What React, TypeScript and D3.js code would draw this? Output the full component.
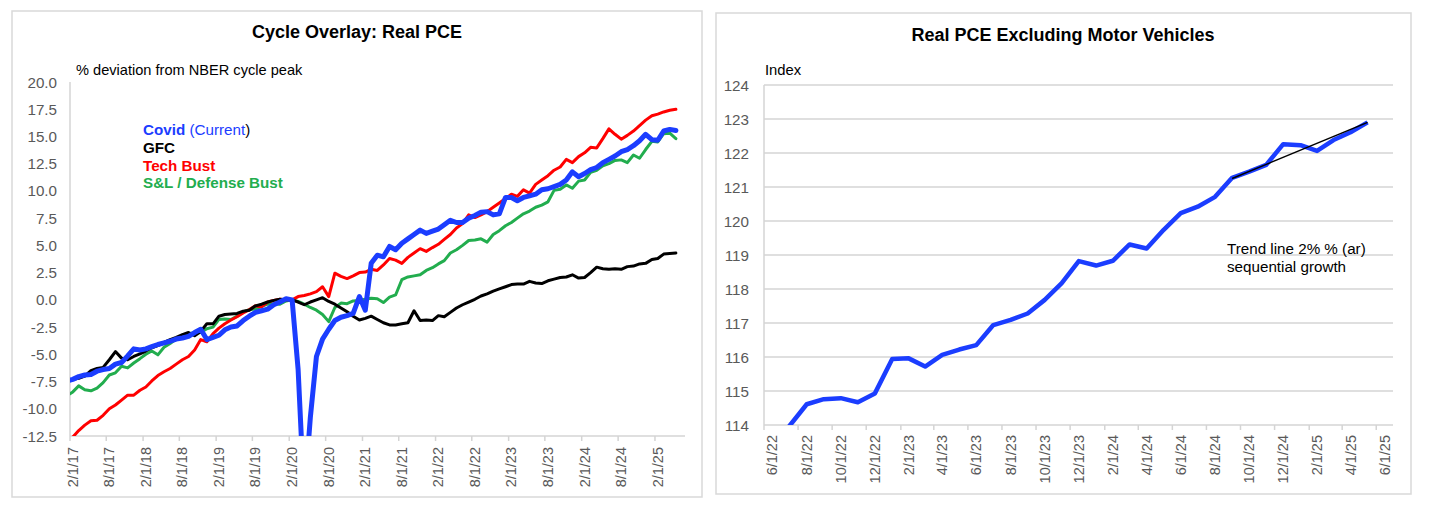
import React from "react";
import * as d3 from "d3";

const parseDay = d3.timeParse("%m/%d/%y");

// ---------- Cycle overlay: % deviation from NBER cycle peak (monthly, from Jan 2017) ----------
const cycleFirstMonth = "1/1/17";

const covid = [
  -7.45, -7.3, -7.05, -6.9, -6.85, -6.55, -6.4, -6.3, -5.9, -5.75, -5.15,
  -4.5, -4.6, -4.5, -4.3, -4.1, -3.95, -3.8, -3.6, -3.5, -3.35,
  -3.0, -2.7, -3.65, -3.45, -3.25, -2.75, -2.5, -2.4, -1.9, -1.5,
  -1.15, -1.0, -0.85, -0.45, -0.2, 0.1, 0.0, -6.4, -18.2, -10.8,
  -5.2, -3.6, -2.7, -1.9, -1.6, -1.45, -1.25, 0.3, -0.95, 3.35,
  4.1, 3.95, 4.9, 4.6, 5.2, 5.6, 6.0, 6.4, 6.1, 6.3,
  6.5, 6.9, 7.3, 7.1, 7.1, 7.5, 7.75, 8.05, 8.1, 7.8,
  7.9, 9.4, 9.4, 9.1, 9.4, 9.55, 9.7, 10.1, 10.2, 10.4,
  10.6, 11.0, 11.75, 11.3, 11.6, 11.95, 12.15, 12.6, 12.9, 13.2,
  13.6, 13.8, 14.15, 14.6, 15.2, 14.7, 14.65, 15.5, 15.65, 15.55,
];

const gfc = [
  -7.5, -7.3, -7.2, -7.0, -6.5, -6.3, -6.2, -5.5, -4.75, -5.35, -5.5,
  -5.2, -4.95, -4.7, -4.4, -4.2, -3.9, -3.65, -3.45, -3.2, -3.0,
  -3.3, -2.9, -2.2, -2.2, -1.5, -1.35, -1.3, -1.25, -1.05, -0.95,
  -0.55, -0.4, -0.2, -0.05, 0.05, 0.0, 0.0, -0.2, -0.45, -0.2,
  0.0, 0.2, -0.15, -0.4, -0.75, -1.1, -1.5, -1.85, -1.7, -1.5,
  -1.8, -2.1, -2.3, -2.3, -2.2, -2.1, -1.0, -1.9, -1.85, -1.9,
  -1.45, -1.55, -1.15, -0.75, -0.45, -0.2, 0.05, 0.35, 0.55, 0.8,
  1.0, 1.2, 1.4, 1.45, 1.45, 1.7, 1.55, 1.5, 1.75, 1.9,
  2.05, 2.1, 2.3, 2.0, 2.05, 2.5, 3.0, 2.85, 2.8, 2.85,
  2.8, 3.05, 3.1, 3.3, 3.35, 3.7, 3.8, 4.2, 4.25, 4.3,
];

const techBust = [
  -13.2, -12.6, -12.0, -11.5, -11.1, -11.05, -10.6, -10.0, -9.65, -9.2, -8.75,
  -8.75, -8.3, -8.0, -7.45, -6.95, -6.6, -6.3, -5.9, -5.5, -5.2,
  -4.6, -3.65, -3.85, -3.1, -2.6, -2.2, -1.85, -1.55, -1.2, -0.9,
  -0.55, -0.65, -0.2, -0.05, 0.05, 0.0, 0.0, 0.3, 0.4, 0.55,
  0.75, 1.2, 0.3, 2.45, 2.15, 1.95, 2.2, 2.5, 2.55, 2.8,
  2.7, 3.2, 3.8, 3.65, 3.35, 3.9, 4.3, 4.7, 4.45, 4.8,
  5.1, 5.55, 6.0, 6.6, 7.0, 7.8, 7.55, 7.8, 8.1, 8.5,
  8.9, 9.3, 9.7, 9.5, 10.1, 9.8, 10.6, 11.0, 11.4, 11.9,
  12.2, 12.9, 12.6, 13.15, 13.5, 14.0, 13.95, 14.8, 15.7, 15.2,
  14.75, 15.1, 15.5, 16.0, 16.5, 16.9, 17.05, 17.25, 17.4, 17.5,
];

const savingsLoan = [
  -8.8, -8.45, -7.9, -8.25, -8.35, -8.1, -7.6, -6.9, -6.7, -6.1, -6.25,
  -5.8, -5.4, -5.0, -4.7, -5.05, -4.35, -4.0, -3.6, -3.25, -3.1,
  -3.05, -3.0, -2.65, -2.5, -1.8, -1.75, -1.8, -1.5, -1.1, -0.9,
  -0.85, -0.6, -0.4, -0.35, -0.4, -0.1, 0.0, -0.15, -0.4, -0.7,
  -0.95, -1.35, -2.0, -0.7, -0.3, -0.35, -0.1, -0.05, 0.05, 0.15,
  0.1, -0.25, 0.25, 0.45, 1.85, 2.1, 2.2, 2.3, 2.7, 2.95,
  3.3, 3.6, 4.3, 4.6, 5.0, 5.45, 5.5, 5.6, 5.3, 6.0,
  6.35, 6.8, 7.1, 7.5, 7.9, 8.15, 8.5, 8.7, 9.0, 10.05,
  10.15, 10.55, 10.25, 10.9, 11.0, 11.7, 11.9, 12.3, 12.5, 12.8,
  12.85, 12.6, 13.3, 13.0, 13.8, 14.55, 14.5, 15.25, 15.3, 14.8,
];

const cycleXTicks = [
  "2/1/17", "8/1/17", "2/1/18", "8/1/18", "2/1/19", "8/1/19", "2/1/20", "8/1/20", "2/1/21",
  "8/1/21", "2/1/22", "8/1/22", "2/1/23", "8/1/23", "2/1/24", "8/1/24", "2/1/25",
];
const cycleYTicks = [20, 17.5, 15, 12.5, 10, 7.5, 5, 2.5, 0, -2.5, -5, -7.5, -10, -12.5];
const cycleAxisEnd = "7/1/25";

// ---------- Real PCE excluding motor vehicles (index, monthly from Jun 2022) ----------
const pceFirstMonth = "6/1/22";
const pceExMotor = [
  113.6, 113.97, 114.61, 114.76, 114.79, 114.67, 114.93,
  115.94, 115.96, 115.72, 116.06, 116.22, 116.35, 116.94, 117.09, 117.28, 117.68, 118.17, 118.82,
  118.69, 118.83, 119.31, 119.19, 119.74, 120.23, 120.42, 120.71, 121.27, 121.45, 121.65, 122.26,
  122.23, 122.06, 122.38, 122.61, 122.9,
];
const pceXTicks = [
  "6/1/22", "8/1/22", "10/1/22", "12/1/22", "2/1/23", "4/1/23", "6/1/23", "8/1/23", "10/1/23",
  "12/1/23", "2/1/24", "4/1/24", "6/1/24", "8/1/24", "10/1/24", "12/1/24", "2/1/25", "4/1/25", "6/1/25",
];
const pceYTicks = [114, 115, 116, 117, 118, 119, 120, 121, 122, 123, 124];
const pceAxisEnd = "7/1/25";
const trendDates = ["9/1/24", "5/1/25"];
const trendValues = [121.25, 122.9];

const FONT = "'Liberation Sans', Arial, Helvetica, sans-serif";
const AXIS = "#d4d4d4";
const LABEL = "#595959";
const BLUE = "#1b3dff";
const RED = "#ff0000";
const GREEN = "#22ad4e";

// points sit in the middle of their month, like Excel's date axis
const midMonth = (x, d) => (x(d) + x(d3.timeMonth.offset(d, 1))) / 2;

function XAxis({ x, y0, ticks, gap }) {
  const [r0, r1] = x.range();
  return (
    <g>
      <line x1={r0} x2={r1} y1={y0} y2={y0} stroke={AXIS} strokeWidth={1.5} />
      {ticks.map((t) => {
        const d = parseDay(t);
        const tx = x(d);
        const lx = midMonth(x, d);
        return (
          <g key={t}>
            <line x1={tx} x2={tx} y1={y0} y2={y0 + 5} stroke={AXIS} strokeWidth={1.5} />
            <text
              transform={`translate(${lx},${y0 + gap}) rotate(-90)`}
              textAnchor="end"
              dominantBaseline="central"
              fontSize={14.5}
              fill={LABEL}
            >
              {t}
            </text>
          </g>
        );
      })}
    </g>
  );
}

function CycleOverlay() {
  const x = d3.scaleTime().domain([parseDay("2/1/17"), parseDay(cycleAxisEnd)]).range([70, 685]);
  const y = d3.scaleLinear().domain([-12.5, 20]).range([436, 82]);
  const start = parseDay(cycleFirstMonth);
  const dates = covid.map((_, i) => d3.timeMonth.offset(start, i));
  const line = d3
    .line()
    .x((_, i) => midMonth(x, dates[i]))
    .y((v) => y(v));

  const series = [
    { values: savingsLoan, color: GREEN, width: 3 },
    { values: techBust, color: RED, width: 3 },
    { values: gfc, color: "#000", width: 3 },
    { values: covid, color: BLUE, width: 5 },
  ];

  return (
    <g>
      <rect x={12} y={11} width={690} height={486} fill="#fff" stroke="#d9d9d9" strokeWidth={1.5} />
      <text x={357} y={38} textAnchor="middle" fontSize={18} fontWeight="bold" fill="#000">
        Cycle Overlay: Real PCE
      </text>
      <text x={76} y={75} fontSize={14.6} fill="#000">
        % deviation from NBER cycle peak
      </text>

      {cycleYTicks.map((t) => (
        <text key={t} x={57} y={y(t)} textAnchor="end" dominantBaseline="central" fontSize={15.2} fill={LABEL}>
          {t.toFixed(1)}
        </text>
      ))}
      <line x1={70} x2={70} y1={y(20)} y2={y(-12.5)} stroke={AXIS} strokeWidth={1.5} />
      <XAxis x={x} y0={y(-12.5)} ticks={cycleXTicks} gap={11} />

      <clipPath id="cycle-clip">
        <rect x={70} y={y(20)} width={615} height={y(-12.5) - y(20)} />
      </clipPath>
      <g clipPath="url(#cycle-clip)">
        {series.map((s, i) => (
          <path
            key={i}
            d={line(s.values)}
            fill="none"
            stroke={s.color}
            strokeWidth={s.width}
            strokeLinejoin="round"
            strokeLinecap="round"
          />
        ))}
      </g>

      <g fontSize={15.2} fontWeight="bold">
        <text x={143} y={135} fill={BLUE}>
          Covid<tspan fontWeight="normal"> (Current</tspan>
          <tspan fontWeight="normal" fill="#000">)</tspan>
        </text>
        <text x={143} y={153} fill="#000">GFC</text>
        <text x={143} y={170.5} fill={RED}>Tech Bust</text>
        <text x={143} y={188} fill={GREEN}>S&amp;L / Defense Bust</text>
      </g>
    </g>
  );
}

function PceExMotor() {
  const x = d3.scaleTime().domain([parseDay("6/1/22"), parseDay(pceAxisEnd)]).range([764, 1393]);
  const y = d3.scaleLinear().domain([114, 124]).range([425, 85]);
  const start = parseDay(pceFirstMonth);
  const dates = pceExMotor.map((_, i) => d3.timeMonth.offset(start, i));
  const line = d3
    .line()
    .x((_, i) => midMonth(x, dates[i]))
    .y((v) => y(v));
  const trend = d3
    .line()
    .x((d) => midMonth(x, parseDay(d[0])))
    .y((d) => y(d[1]));

  return (
    <g>
      <rect x={716} y={13} width={695} height={481} fill="#fff" stroke="#d9d9d9" strokeWidth={1.5} />
      <text x={1063} y={41} textAnchor="middle" fontSize={18} fontWeight="bold" fill="#000">
        Real PCE Excluding Motor Vehicles
      </text>
      <text x={765} y={75} fontSize={14.8} fill="#000">
        Index
      </text>

      {pceYTicks.map((t) => (
        <g key={t}>
          {t > 114 && <line x1={764} x2={1393} y1={y(t)} y2={y(t)} stroke={AXIS} strokeWidth={1.5} />}
          <text x={749} y={y(t)} textAnchor="end" dominantBaseline="central" fontSize={15.2} fill={LABEL}>
            {t}
          </text>
        </g>
      ))}
      <line x1={764} x2={764} y1={y(124)} y2={y(114)} stroke={AXIS} strokeWidth={1.5} />
      <XAxis x={x} y0={y(114)} ticks={pceXTicks} gap={10} />

      <clipPath id="pce-clip">
        <rect x={764} y={y(124)} width={629} height={y(114) - y(124)} />
      </clipPath>
      <g clipPath="url(#pce-clip)">
        <path d={line(pceExMotor)} fill="none" stroke={BLUE} strokeWidth={4.5} strokeLinejoin="round" />
        <path
          d={trend(trendDates.map((d, i) => [d, trendValues[i]]))}
          fill="none"
          stroke="#000"
          strokeWidth={1.5}
        />
      </g>

      <text fontSize={15.2} fill="#000">
        <tspan x={1227} y={254}>Trend line 2% % (ar)</tspan>
        <tspan x={1227} y={272}>sequential growth</tspan>
      </text>
    </g>
  );
}

export default function App() {
  return (
    <svg
      width={1429}
      height={513}
      viewBox="0 0 1429 513"
      style={{ position: "absolute", left: 0, top: 0, background: "#fff" }}
      fontFamily={FONT}
    >
      <CycleOverlay />
      <PceExMotor />
    </svg>
  );
}
